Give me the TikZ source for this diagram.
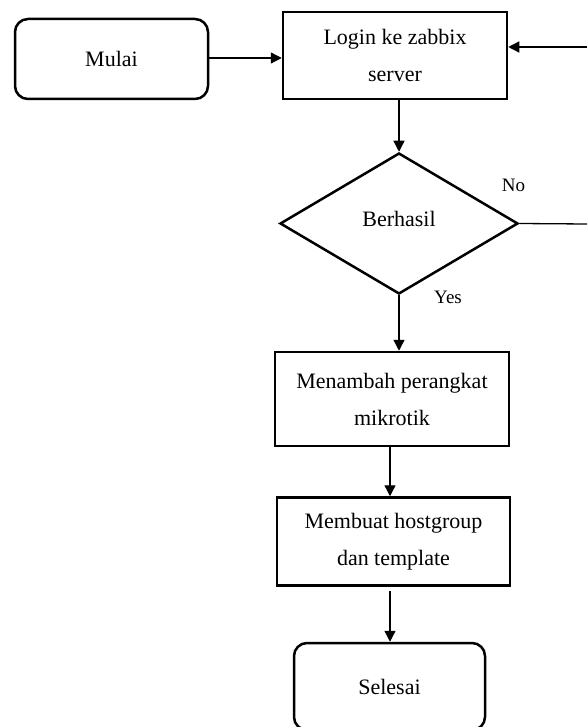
\documentclass[tikz,border=0pt]{standalone}
\usepackage{fontspec}
\setmainfont{Liberation Serif}
\usetikzlibrary{arrows.meta,shapes.geometric,calc}
\begin{document}
\begin{tikzpicture}[x=1pt,y=-1pt,
  box/.style={draw=black,line width=2.5pt,inner sep=0pt,align=center,
    font=\fontsize{22}{37}\selectfont},
  rbox/.style={box,rounded corners=13pt},
  dec/.style={draw=black,line width=2.5pt,diamond,inner sep=0pt,
    font=\fontsize{22}{26}\selectfont},
  arr/.style={line width=1.3pt,-{Triangle[length=11pt,width=11pt]}},
  ln/.style={line width=1.3pt},
  lbl/.style={font=\fontsize{19}{22}\selectfont,inner sep=0pt}]
\useasboundingbox (0,0) rectangle (587,727);
\fill[white] (0,0) rectangle (587,727);

\node[rbox,minimum width=193pt,minimum height=80pt] (mulai) at (111.5,59) {Mulai};
\node[box,minimum width=224pt,minimum height=87pt] (login) at (395,55.5) {Login ke zabbix\\server};
\node[dec,minimum width=238pt,minimum height=141pt,aspect=1.69] (dia) at (399,223.5) {};
\node[font=\fontsize{22}{26}\selectfont,inner sep=0pt] (diat) at (399,219) {Berhasil};
\node[box,minimum width=234pt,minimum height=94pt] (men) at (392,399) {Menambah perangkat\\mikrotik};
\node[box,minimum width=233pt,minimum height=88pt] (mem) at (393.5,541.5) {Membuat hostgroup\\dan template};
\node[rbox,minimum width=191pt,minimum height=87pt] (sel) at (389.5,686.5) {Selesai};

\node[lbl,anchor=base] (no) at (513.5,192) {No};
\node[lbl,anchor=base] (yes) at (448,303) {Yes};

\coordinate (r1) at (587,224);
\coordinate (r2) at (587,47);

\draw[arr] (mulai.east |- 0,58) -- (login.west |- 0,58);
\draw[arr] (dia.north |- login.south) -- (dia.north);
\draw[arr] (dia.south) -- (dia.south |- men.north);
\draw[arr] (390,0 |- men.south) -- (390,0 |- mem.north);
\draw[arr] ($(390,0 |- mem.south)+(0,4)$) -- (390,0 |- sel.north);
\draw[ln] (dia.east) -- (r1);
\draw[arr] (r2) -- (login.east |- r2);
\end{tikzpicture}
\end{document}
